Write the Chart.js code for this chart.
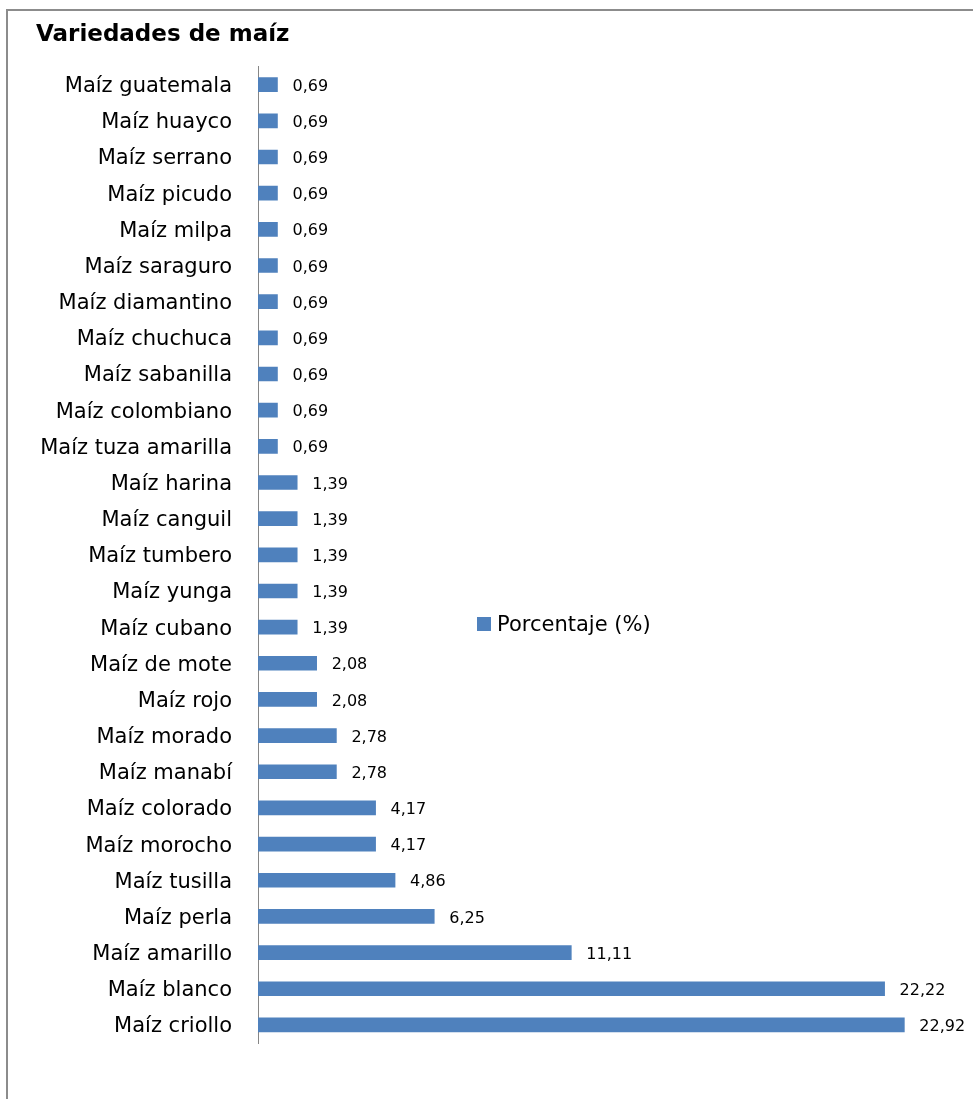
<!DOCTYPE html>
<html lang="es">
<head>
  <meta charset="UTF-8">
  <title>Variedades de maíz</title>
  <script src="https://cdn.jsdelivr.net/npm/chart.js"></script>
  <style>
    body { margin: 0; background: #fff; font-family: "DejaVu Sans", sans-serif; }
    #wrap { position: relative; width: 973px; height: 1099px; overflow: hidden; }
    #frame { position: absolute; left: 6px; top: 9px; width: 1100px; height: 1200px;
             border-left: 2px solid #8c8c8c; border-top: 2px solid #8c8c8c; }
    #chart { position: absolute; left: 0; top: 0; }
    #legend { position: absolute; left: 477px; top: 612px; font-size: 21px; color: #000;
              display: flex; align-items: center; }
    #legend span.box { display: inline-block; width: 14px; height: 14px; background: #4f81bd; margin-right: 6px; }
  </style>
</head>
<body>
<div id="wrap">
  <div id="frame"></div>
  <canvas id="chart" width="973" height="1099"></canvas>
  <div id="legend"><span class="box"></span>Porcentaje (%)</div>
</div>
<script>
  // variedades, de arriba hacia abajo
  const varieties = [
    'Maíz guatemala', 'Maíz huayco', 'Maíz serrano', 'Maíz picudo', 'Maíz milpa',
    'Maíz saraguro', 'Maíz diamantino', 'Maíz chuchuca', 'Maíz sabanilla',
    'Maíz colombiano', 'Maíz tuza amarilla', 'Maíz harina', 'Maíz canguil',
    'Maíz tumbero', 'Maíz yunga', 'Maíz cubano', 'Maíz de mote', 'Maíz rojo',
    'Maíz morado', 'Maíz manabí', 'Maíz colorado', 'Maíz morocho', 'Maíz tusilla',
    'Maíz perla', 'Maíz amarillo', 'Maíz blanco', 'Maíz criollo'
  ];
  const percentages = [
    0.69, 0.69, 0.69, 0.69, 0.69, 0.69, 0.69, 0.69, 0.69, 0.69, 0.69,
    1.39, 1.39, 1.39, 1.39, 1.39, 2.08, 2.08, 2.78, 2.78, 4.17, 4.17,
    4.86, 6.25, 11.11, 22.22, 22.92
  ];
  const seriesName = 'Porcentaje (%)';
  const chartTitle = 'Variedades de maíz';

  const fmt = v => v.toFixed(2).replace('.', ',');

  // etiquetas de datos al final de cada barra
  const valueLabels = {
    id: 'valueLabels',
    afterDatasetsDraw(chart) {
      const ctx = chart.ctx;
      const meta = chart.getDatasetMeta(0);
      ctx.save();
      ctx.font = '16px "DejaVu Sans", sans-serif';
      ctx.fillStyle = '#000';
      ctx.textBaseline = 'middle';
      ctx.textAlign = 'left';
      meta.data.forEach((bar, i) => {
        ctx.fillText(fmt(percentages[i]), bar.x + 15, bar.y + 2);
      });
      ctx.restore();
    }
  };

  new Chart(document.getElementById('chart'), {
    type: 'bar',
    data: {
      labels: varieties,
      datasets: [{
        label: seriesName,
        data: percentages,
        backgroundColor: '#4f81bd',
        barThickness: 14
      }]
    },
    options: {
      indexAxis: 'y',
      responsive: false,
      animation: false,
      layout: { padding: { left: 36, right: 10, top: 0, bottom: 56 } },
      plugins: {
        legend: { display: false },
        tooltip: { enabled: false },
        title: {
          display: true,
          text: chartTitle,
          align: 'start',
          color: '#000',
          font: { family: '"DejaVu Sans", sans-serif', size: 23, weight: 'bold' },
          padding: { top: 21, bottom: 18 }
        }
      },
      scales: {
        x: { display: false, min: 0, max: 25 },
        y: {
          grid: { display: false, drawTicks: false },
          border: { display: true, color: '#868686', width: 1 },
          ticks: {
            color: '#000',
            padding: 26,
            labelOffset: 2,
            autoSkip: false,
            font: { family: '"DejaVu Sans", sans-serif', size: 21 }
          },
          afterFit(scale) { scale.width = 222; }
        }
      }
    },
    plugins: [valueLabels]
  });
</script>
</body>
</html>
